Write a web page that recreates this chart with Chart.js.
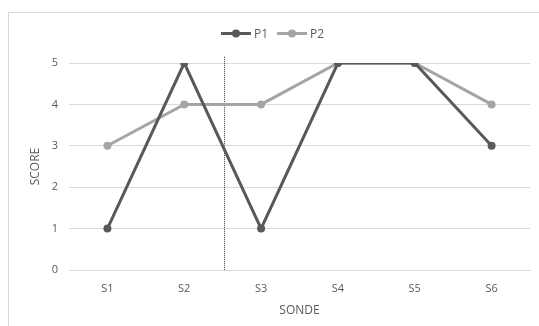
<!DOCTYPE html>
<html>
<head>
<meta charset="utf-8">
<script src="https://cdn.jsdelivr.net/npm/chart.js@4/dist/chart.umd.min.js"></script>
<style>
  html, body { margin: 0; padding: 0; background: #fff; }
  #wrap { width: 539px; height: 326px; }
</style>
</head>
<body>
<div id="wrap"><canvas id="myChart" width="539" height="326"></canvas></div>
<script>
// data
const sondes = ['S1', 'S2', 'S3', 'S4', 'S5', 'S6'];
const p1 = [1, 5, 1, 5, 5, 3];
const p2 = [3, 4, 4, 5, 5, 4];
const yTicks = [0, 1, 2, 3, 4, 5];
const markerAt = 1.52; // dotted separator between S2 and S3

const textColor = '#595959';
const gridColor = '#d9d9d9';
const fontFamily = '"Open Sans", sans-serif';

// frame, separator line and an Excel-like legend (line + dot + name)
const extras = {
  id: 'extras',
  beforeDraw(chart) {
    const c = chart.ctx;
    c.save();
    c.strokeStyle = gridColor;
    c.lineWidth = 1;
    c.beginPath();
    c.moveTo(8.5, 326);
    c.lineTo(8.5, 12.5);
    c.lineTo(539, 12.5);
    c.stroke();
    c.restore();
  },
  beforeDatasetsDraw(chart) {
    const c = chart.ctx;
    const x = Math.round(chart.scales.x.getPixelForValue(markerAt)) + 0.5;
    c.save();
    c.strokeStyle = '#404040';
    c.lineWidth = 1;
    c.setLineDash([1, 1]);
    c.beginPath();
    c.moveTo(x, chart.scales.y.getPixelForValue(5.15));
    c.lineTo(x, chart.scales.y.getPixelForValue(0));
    c.stroke();
    c.restore();
  },
  afterDraw(chart) {
    const c = chart.ctx;
    const lineW = 30, gap = 3, itemGap = 9, y = 33.5;
    c.save();
    c.font = '12px ' + fontFamily;
    c.textBaseline = 'middle';
    const sets = chart.data.datasets;
    const widths = sets.map(ds => lineW + gap + c.measureText(ds.label).width);
    const total = widths.reduce((a, b) => a + b, 0) + itemGap * (sets.length - 1);
    let x = Math.round(273 - total / 2);
    sets.forEach((ds, i) => {
      c.strokeStyle = ds.borderColor;
      c.lineWidth = 3;
      c.beginPath();
      c.moveTo(x, y);
      c.lineTo(x + lineW, y);
      c.stroke();
      c.fillStyle = ds.borderColor;
      c.beginPath();
      c.arc(x + lineW / 2, y, 4, 0, Math.PI * 2);
      c.fill();
      c.fillStyle = textColor;
      c.fillText(ds.label, x + lineW + gap, y + 1);
      x += widths[i] + itemGap;
    });
    c.restore();
  }
};

Chart.defaults.font.family = fontFamily;
Chart.defaults.font.size = 11;
Chart.defaults.color = textColor;

new Chart(document.getElementById('myChart').getContext('2d'), {
  type: 'line',
  data: {
    labels: sondes,
    datasets: [
      {
        label: 'P1',
        data: p1,
        borderColor: '#595959',
        backgroundColor: '#595959',
        borderWidth: 3,
        pointRadius: 4,
        pointBackgroundColor: '#595959',
        pointBorderWidth: 0,
        tension: 0
      },
      {
        label: 'P2',
        data: p2,
        borderColor: '#a5a5a5',
        backgroundColor: '#a5a5a5',
        borderWidth: 3,
        pointRadius: 4,
        pointBackgroundColor: '#a5a5a5',
        pointBorderWidth: 0,
        tension: 0
      }
    ]
  },
  options: {
    responsive: false,
    animation: false,
    layout: { padding: { left: 24, right: 9, top: 63, bottom: 8 } },
    plugins: {
      tooltip: { enabled: false },
      legend: { display: false }
    },
    scales: {
      x: {
        offset: true,
        grid: { display: false },
        border: { display: true, color: gridColor },
        ticks: { padding: 4 },
        title: { display: true, text: 'SONDE', color: textColor, font: { size: 12 }, padding: { top: 4, bottom: 0 } },
        afterFit(s) { s.height = 48; }
      },
      y: {
        min: 0,
        max: 5,
        afterBuildTicks(s) { s.ticks = yTicks.map(v => ({ value: v })); },
        grid: { color: gridColor, drawTicks: false },
        border: { display: false },
        ticks: { padding: 11 },
        title: { display: true, text: 'SCORE', color: textColor, font: { size: 12 }, padding: { bottom: 6 } },
        afterFit(s) { s.width = 45; }
      }
    }
  },
  plugins: [extras]
});
</script>
</body>
</html>
